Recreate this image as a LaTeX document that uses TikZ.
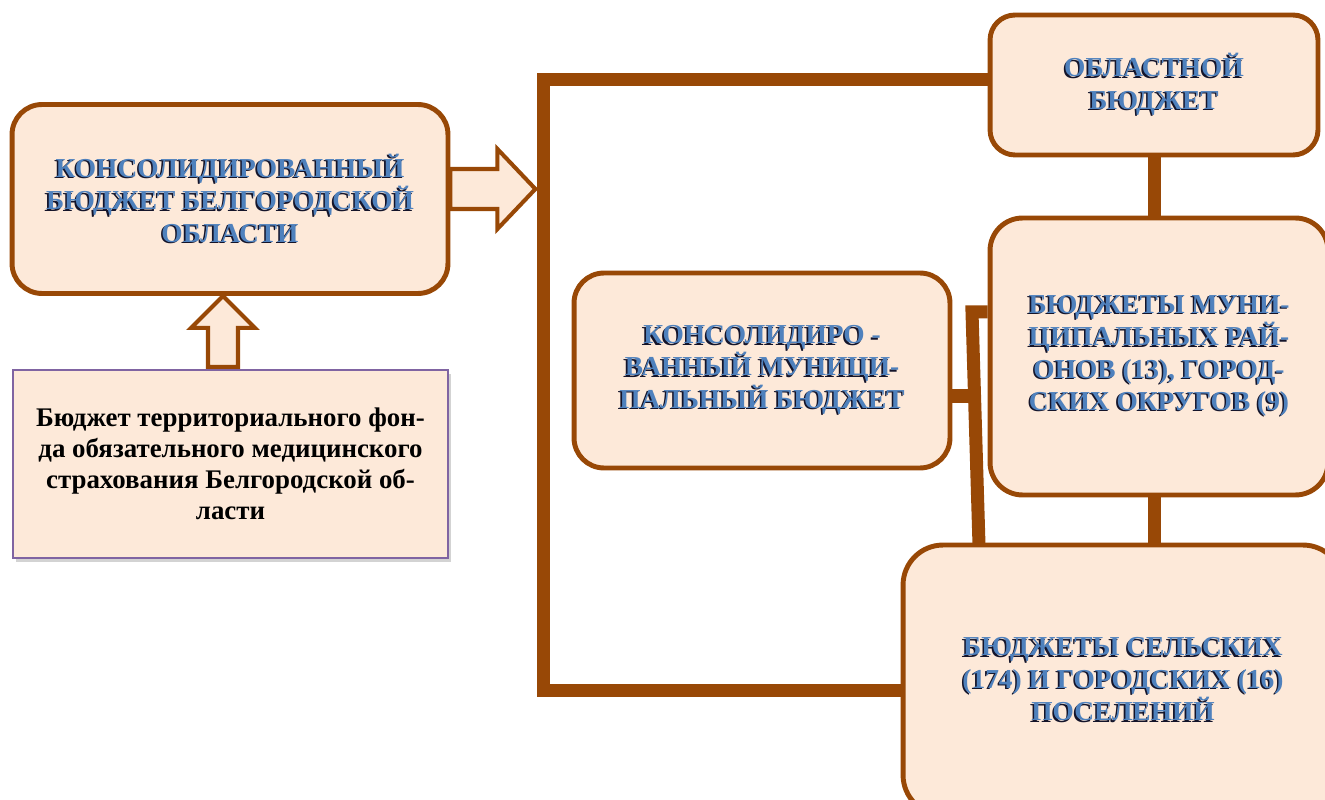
\documentclass[tikz,border=0pt]{standalone}
\usepackage{fontspec}
\setmainfont{Liberation Serif}
\usetikzlibrary{calc,shadows}
\definecolor{brn}{HTML}{984806}
\definecolor{peach}{HTML}{FDE9D9}
\definecolor{hblue}{HTML}{4F81BD}
\definecolor{hshade}{HTML}{14142A}
\definecolor{lilac}{HTML}{8064A2}
\newcommand{\hl}[1]{\makebox[0pt][l]{\kern-0.9pt\raisebox{-0.9pt}{\color{hshade}#1}}{\color{hblue}#1}}

\begin{document}
\begin{tikzpicture}[x=0.02cm,y=-0.02cm,
        box/.style={draw=brn,line width=2.8pt,fill=peach,rounded corners=0.6cm,align=center,inner sep=0pt,font=\bfseries\fontsize{15.6}{18.4}\selectfont},
        conn/.style={draw=brn,line width=7.4pt},
        blockarrow/.style={draw=brn,line width=2.3pt,fill=peach,line join=miter}]
                \useasboundingbox (0,0) rectangle (1325,800);
                \clip (0,0) rectangle (1325,800);
                \node[box,minimum width=8.72cm,minimum height=3.78cm](A)at(230, 199){\hl{КОНСОЛИДИРОВАННЫЙ}\\\hl{БЮДЖЕТ БЕЛГОРОДСКОЙ}\\\hl{ОБЛАСТИ}};
                \node[draw=lilac,line width=0.8pt,fill=peach,drop shadow={shadow xshift=1.5pt,shadow yshift=-2.5pt,opacity=0.35},minimum width=8.7cm,minimum height=3.76cm,align=center,inner sep=0pt,font=\bfseries\fontsize{15.3}{17.6}\selectfont](D)at(230.5, 464){Бюджет территориального фон-\\да обязательного медицинского\\страхования Белгородской об-\\ласти};
                \node[box,minimum width=7.52cm,minimum height=3.9cm](B)at(762, 370.5){\hl{КОНСОЛИДИРО -}\\\hl{ВАННЫЙ МУНИЦИ-}\\\hl{ПАЛЬНЫЙ БЮДЖЕТ}};
                \node[box,rounded corners=0.5cm,minimum width=6.56cm,minimum height=2.8cm](C)at(1154, 85){\hl{ОБЛАСТНОЙ}\\\hl{БЮДЖЕТ}};
                \node[box,rounded corners=0.65cm,minimum width=6.76cm,minimum height=5.54cm](E)at(1159, 356.5){\hl{БЮДЖЕТЫ МУНИ-}\\\hl{ЦИПАЛЬНЫХ РАЙ-}\\\hl{ОНОВ (13), ГОРОД-}\\\hl{СКИХ ОКРУГОВ (9)}};
                \node[box,rounded corners=0.8cm,minimum width=8.8cm,minimum height=5.4cm](F)at(1123, 680){\hl{БЮДЖЕТЫ СЕЛЬСКИХ}\\\hl{(174) И ГОРОДСКИХ (16)}\\\hl{ПОСЕЛЕНИЙ}};
                \coordinate (bt) at (543, 80);
                \coordinate (bb) at (543, 690);
                \coordinate (kt) at (972, 312);
                \coordinate (kb) at (979, 545);
                \coordinate (km) at (975, 396);
                \draw[conn] ($(C.west)+(0,-5)$) -- (bt) -- (bb) -- (bb -| F.west);
                \draw[conn] (C.south) -- (C.south |- E.north);
                \draw[conn] (E.south -| C.south) -- (F.north -| C.south);
                \draw[conn] (kt -| E.west) -- (kt) -- (kb);
                \draw[conn] (B.east |- km) -- (km);
                \draw[blockarrow] ($(A.east)+(0,-30)$) -- ++(47,0) -- ++(0,-20) -- ++(38,40) -- ++(-38,40) -- ++(0,-20) -- ++(-47,0) -- cycle;
                \draw[blockarrow] ($(A.south)+(-7,0)$) -- ++(32,32) -- ++(-17,0) -- ++(0,39) -- ++(-30,0) -- ++(0,-39) -- ++(-17,0) -- cycle;
\end{tikzpicture}
\end{document}
